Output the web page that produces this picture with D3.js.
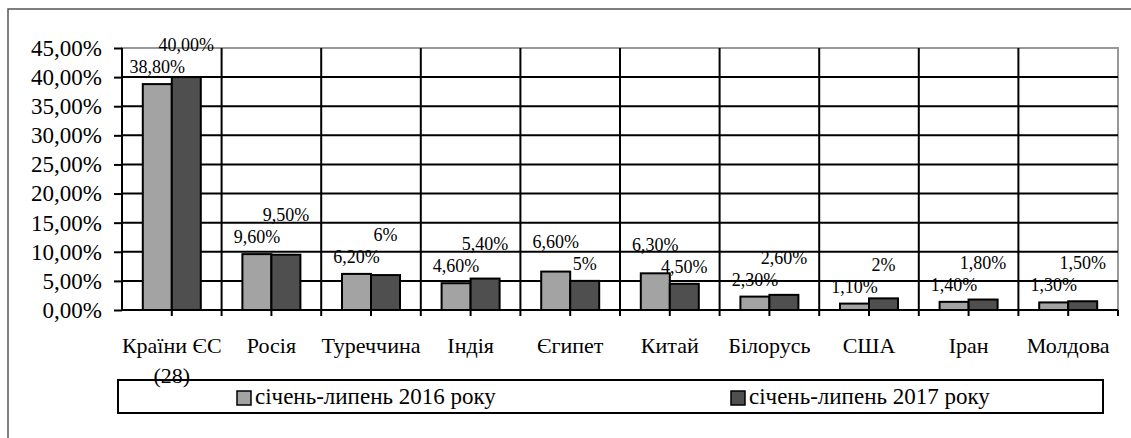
<!DOCTYPE html>
<html>
<head>
<meta charset="utf-8">
<script src="https://cdn.jsdelivr.net/npm/d3@7"></script>
</head>
<body style="margin:0">
<svg id="chart" width="1131" height="438"></svg>
<script>
// chart data
const categories = ["Країни ЄС (28)", "Росія", "Туреччина", "Індія", "Єгипет", "Китай", "Білорусь", "США", "Іран", "Молдова"];
const seriesNames = ["січень-липень 2016 року", "січень-липень 2017 року"];
const values2016 = [0.388, 0.096, 0.062, 0.046, 0.066, 0.063, 0.023, 0.011, 0.014, 0.013];
const values2017 = [0.40, 0.095, 0.06, 0.054, 0.05, 0.045, 0.026, 0.02, 0.018, 0.015];
const labels2016 = ["38,80%", "9,60%", "6,20%", "4,60%", "6,60%", "6,30%", "2,30%", "1,10%", "1,40%", "1,30%"];
const labels2017 = ["40,00%", "9,50%", "6%", "5,40%", "5%", "4,50%", "2,60%", "2%", "1,80%", "1,50%"];
const yTicks = [0, 0.05, 0.10, 0.15, 0.20, 0.25, 0.30, 0.35, 0.40, 0.45];

const colors = ["#a3a3a3", "#4f4f4f"];
const textFont = "\"Liberation Serif\", monospace";

const svg = d3.select("#chart");
const plot = { left: 122, right: 1118, top: 48, bottom: 310 };

const ua = d3.formatLocale({ decimal: ",", thousands: " ", grouping: [3], currency: ["", ""] });
const pct = ua.format(".2%");

function serifText(sel, size) {
  sel.attr("font-family", textFont)
    .attr("font-size", size)
    .style("font-family", textFont)
    .style("font-size", size + "px");
  return sel;
}

// outer chart border
svg.append("rect")
  .attr("x", 8).attr("y", 9)
  .attr("width", 1140).attr("height", 440)
  .attr("fill", "#fff")
  .attr("stroke", "#555")
  .attr("stroke-width", 1.5);

const x0 = d3.scaleBand()
  .domain(categories)
  .range([plot.left, plot.right])
  .padding(0);

const barW = 29;
const x1 = d3.scaleBand()
  .domain(seriesNames)
  .range([x0.bandwidth() / 2 - barW, x0.bandwidth() / 2 + barW]);

const y = d3.scaleLinear()
  .domain([0, 0.45])
  .range([plot.bottom, plot.top]);

// plot area border (grey)
svg.append("rect")
  .attr("x", plot.left).attr("y", plot.top)
  .attr("width", plot.right - plot.left)
  .attr("height", plot.bottom - plot.top)
  .attr("fill", "none")
  .attr("stroke", "#999")
  .attr("stroke-width", 2);

// horizontal gridlines
svg.append("g")
  .selectAll("line")
  .data(yTicks.filter(d => d > 0 && d < 0.45))
  .join("line")
  .attr("x1", plot.left).attr("x2", plot.right)
  .attr("y1", d => y(d)).attr("y2", d => y(d))
  .attr("stroke", "#000")
  .attr("stroke-width", 2);

// vertical gridlines between categories (run down as ticks)
svg.append("g")
  .selectAll("line")
  .data(categories.slice(1))
  .join("line")
  .attr("x1", d => x0(d)).attr("x2", d => x0(d))
  .attr("y1", plot.top).attr("y2", plot.bottom + 6)
  .attr("stroke", "#000")
  .attr("stroke-width", 2);

// small ticks at category centres and right edge
svg.append("g")
  .selectAll("line")
  .data(categories)
  .join("line")
  .attr("x1", d => x0(d) + x0.bandwidth() / 2)
  .attr("x2", d => x0(d) + x0.bandwidth() / 2)
  .attr("y1", plot.bottom).attr("y2", plot.bottom + 6)
  .attr("stroke", "#000")
  .attr("stroke-width", 2);

svg.append("line")
  .attr("x1", plot.right).attr("x2", plot.right)
  .attr("y1", plot.bottom).attr("y2", plot.bottom + 6)
  .attr("stroke", "#000")
  .attr("stroke-width", 2);

// bars
const rows = categories.map((c, i) => ({
  cat: c,
  items: [
    { s: seriesNames[0], v: values2016[i], label: labels2016[i], k: 0 },
    { s: seriesNames[1], v: values2017[i], label: labels2017[i], k: 1 }
  ]
}));

// label placement: above the bar, and if the two labels collide
// the taller bar's label goes up (near-equal bars: 2017 goes up)
const lift = 17, gap = 22;
rows.forEach(r => {
  const [a, b] = r.items;
  a.cy = y(a.v) - lift;
  b.cy = y(b.v) - lift;
  if (Math.abs(a.cy - b.cy) < gap) {
    if (a.v - b.v > 0.005) a.cy = Math.min(a.cy, b.cy - gap);
    else b.cy = Math.min(b.cy, a.cy - gap);
  }
});

const groups = svg.append("g")
  .selectAll("g")
  .data(rows)
  .join("g")
  .attr("transform", d => `translate(${x0(d.cat)},0)`);

groups.selectAll("rect")
  .data(d => d.items)
  .join("rect")
  .attr("x", d => x1(d.s))
  .attr("y", d => y(d.v))
  .attr("width", x1.bandwidth())
  .attr("height", d => y(0) - y(d.v))
  .attr("fill", d => colors[d.k])
  .attr("stroke", "#000")
  .attr("stroke-width", 2);

// y axis
const yAxis = svg.append("g")
  .attr("transform", `translate(${plot.left},0)`)
  .call(d3.axisLeft(y).tickValues(yTicks).tickFormat(pct).tickSize(8).tickPadding(12));
yAxis.selectAll("line").attr("stroke", "#000").attr("stroke-width", 2);
yAxis.select(".domain").attr("stroke", "#000").attr("stroke-width", 2)
  .attr("d", `M0,${plot.top}V${plot.bottom}`);
serifText(yAxis.selectAll("text").attr("fill", "#000"), 23);

// x axis line
svg.append("line")
  .attr("x1", plot.left).attr("x2", plot.right)
  .attr("y1", plot.bottom).attr("y2", plot.bottom)
  .attr("stroke", "#000")
  .attr("stroke-width", 2);

// category labels with wrapping
const xAxis = svg.append("g")
  .attr("transform", `translate(0,${plot.bottom})`)
  .call(d3.axisBottom(x0).tickSize(0).tickPadding(0));
xAxis.select(".domain").remove();
serifText(xAxis.selectAll("text"), 22)
  .attr("fill", "#000")
  .attr("y", 0).attr("dy", null)
  .each(function (d) {
    const text = d3.select(this);
    const words = d.split(" ");
    text.text(null);
    let line = [];
    let lineNo = 0;
    let tspan = text.append("tspan").attr("x", 0).attr("y", 43);
    words.forEach(w => {
      line.push(w);
      tspan.text(line.join(" "));
      if (tspan.node().getComputedTextLength() > 104 && line.length > 1) {
        line.pop();
        tspan.text(line.join(" "));
        line = [w];
        lineNo++;
        tspan = text.append("tspan").attr("x", 0).attr("y", 43 + lineNo * 30).text(w);
      }
    });
  });

// data labels
serifText(groups.selectAll("text.label")
  .data(d => d.items)
  .join("text")
  .attr("class", "label")
  .attr("x", d => x1(d.s) + x1.bandwidth() / 2)
  .attr("y", d => d.cy)
  .attr("dy", "0.33em")
  .attr("text-anchor", "middle")
  .attr("fill", "#000")
  .text(d => d.label), 18);

// legend
const legend = svg.append("g");
legend.append("rect")
  .attr("x", 118).attr("y", 380)
  .attr("width", 985).attr("height", 33)
  .attr("fill", "none")
  .attr("stroke", "#000")
  .attr("stroke-width", 2);

const legendX = [237, 731];
const items = legend.selectAll("g")
  .data(seriesNames)
  .join("g")
  .attr("transform", (d, i) => `translate(${legendX[i]},391)`);
items.append("rect")
  .attr("width", 14).attr("height", 14)
  .attr("fill", (d, i) => colors[i])
  .attr("stroke", "#000")
  .attr("stroke-width", 1.5);
serifText(items.append("text")
  .attr("x", 18).attr("y", 13)
  .attr("fill", "#000")
  .text(d => d), 23);
</script>
</body>
</html>
